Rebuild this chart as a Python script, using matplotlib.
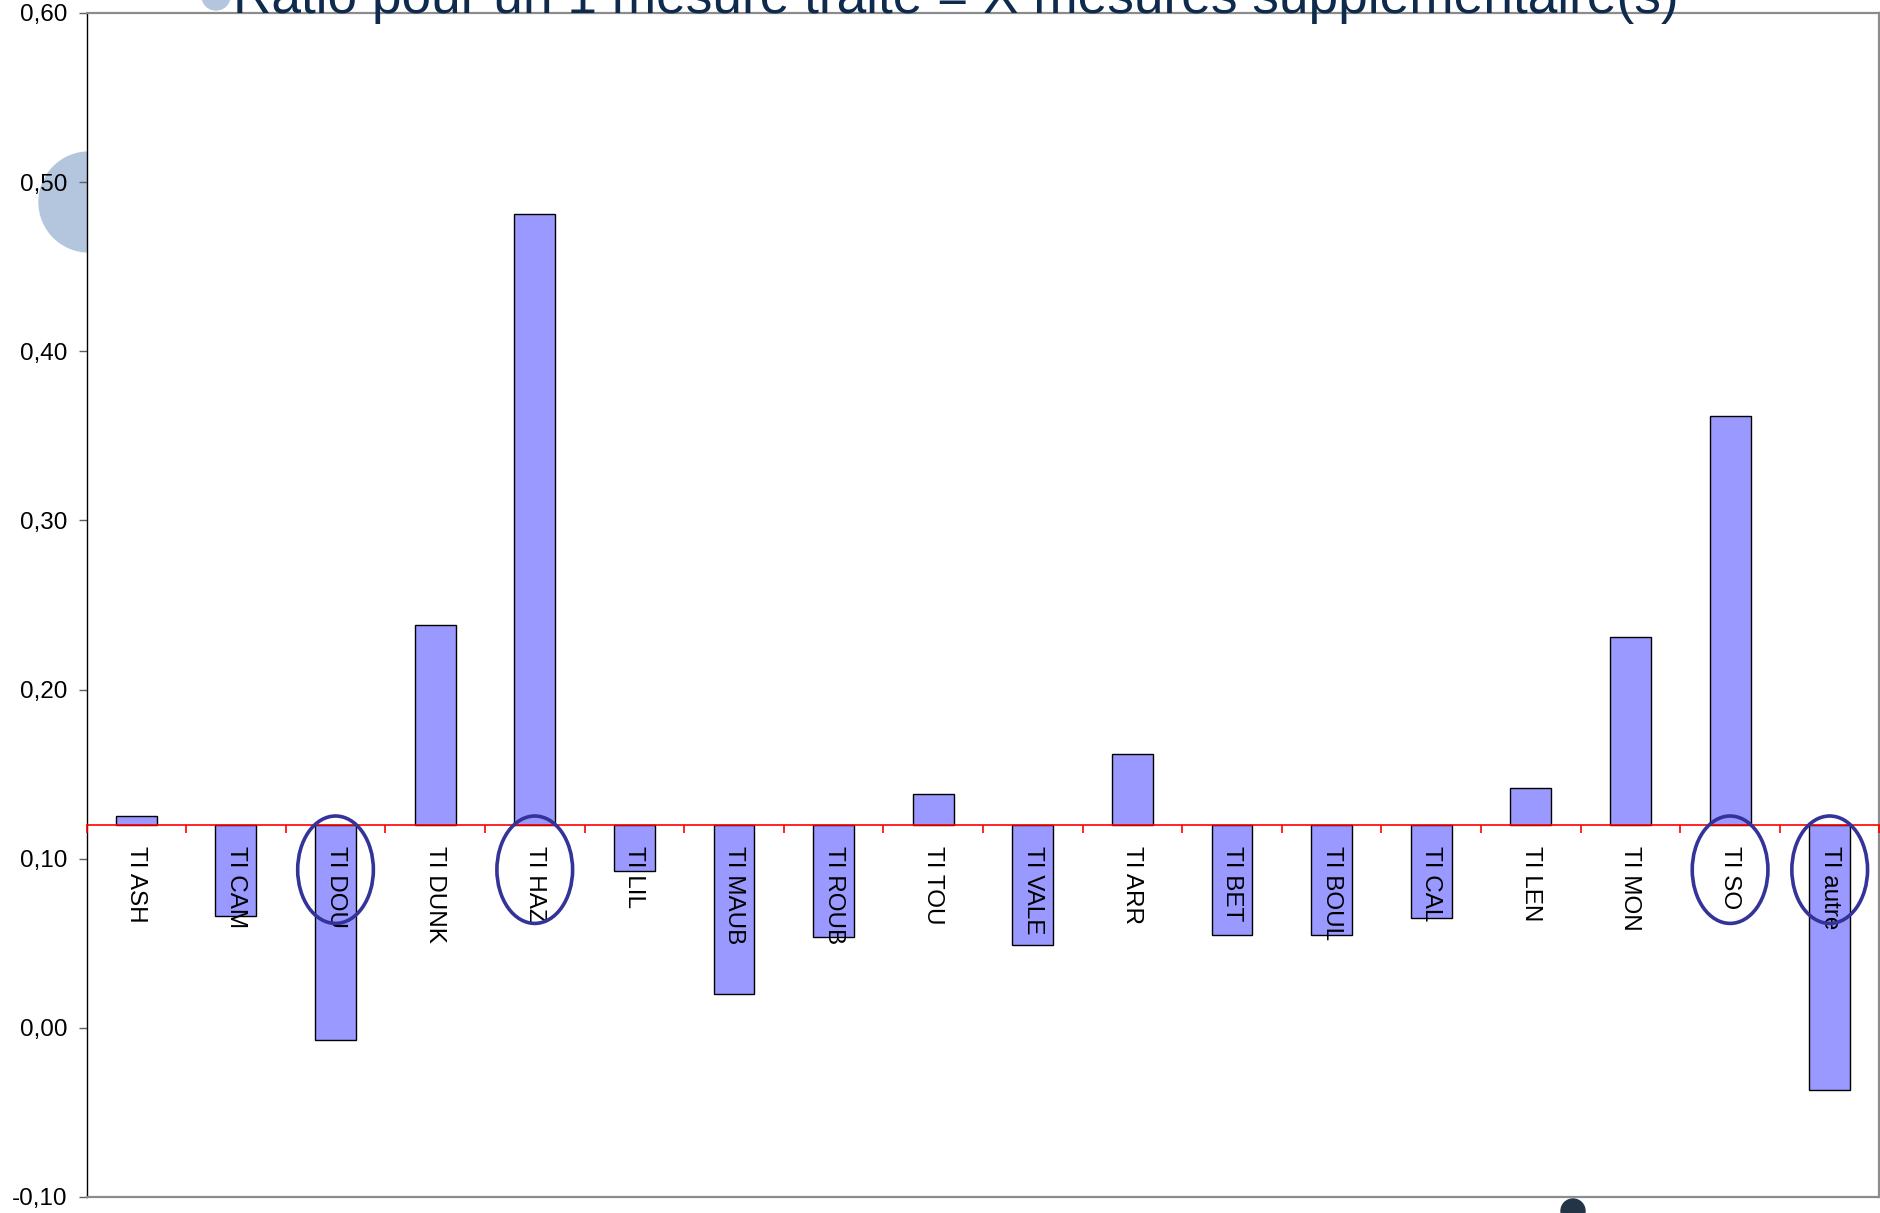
import numpy as np
import matplotlib
matplotlib.use('Agg')
import matplotlib.pyplot as plt
from matplotlib.patches import Circle, Ellipse
from matplotlib.ticker import FuncFormatter, FixedLocator

# Ratio per site
sites = ['TI ASH', 'TI CAM', 'TI DOU', 'TI DUNK', 'TI HAZ', 'TI LIL', 'TI MAUB',
         'TI ROUB', 'TI TOU', 'TI VALE', 'TI ARR', 'TI BET', 'TI BOUL', 'TI CAL',
         'TI LEN', 'TI MON', 'TI SO', 'TI autre']
ratios = [0.125, 0.066, -0.007, 0.238, 0.481, 0.093, 0.020,
          0.054, 0.138, 0.049, 0.162, 0.055, 0.055, 0.065,
          0.142, 0.231, 0.362, -0.037]
baseline = 0.12
highlighted = ['TI DOU', 'TI HAZ', 'TI SO', 'TI autre']
yticks = [-0.10, 0.00, 0.10, 0.20, 0.30, 0.40, 0.50, 0.60]
title = 'Ratio pour un 1 mesure traité = X mesures supplémentaire(s)'

plt.rcParams['font.family'] = ['Liberation Sans', 'DejaVu Sans']

W, H = 1881, 1213
fig = plt.figure(figsize=(W / 100, H / 100), dpi=100)
ax = fig.add_axes([86.5 / W, 16 / H, (1879.5 - 86.5) / W, (1198 - 14) / H])
ax.set_facecolor('white')

x = np.arange(len(sites))
vals = np.array(ratios)
ax.bar(x, vals - baseline, bottom=baseline, width=0.41, color='#9999FF',
       edgecolor='black', linewidth=1.0, zorder=2)

ax.set_xlim(-0.5, len(sites) - 0.5)
ax.set_ylim(-0.10, 0.60)
ax.set_yticks(yticks)
ax.yaxis.set_major_formatter(FuncFormatter(lambda v, p: f'{v:.2f}'.replace('.', ',').replace('-0,00', '0,00')))
ax.tick_params(axis='y', length=6, width=1, color='#606060', labelsize=17.5, pad=8)
ax.tick_params(axis='x', bottom=False, labelbottom=False)

for s in ['top', 'right', 'bottom']:
    ax.spines[s].set_color('#8C8C8C')
    ax.spines[s].set_linewidth(1.6)
ax.spines['left'].set_color('black')
ax.spines['left'].set_linewidth(1.0)

# category axis crossing at the baseline
sec = ax.secondary_xaxis(baseline, transform=ax.transData)
sec.set_zorder(3)
sec.spines['bottom'].set_color('red')
sec.spines['bottom'].set_linewidth(1.2)
sec.xaxis.set_major_locator(FixedLocator(np.arange(len(sites) + 1) - 0.5))
sec.xaxis.set_minor_locator(FixedLocator(x))
sec.xaxis.set_major_formatter(FuncFormatter(lambda v, p: ''))
sec.xaxis.set_minor_formatter(FuncFormatter(lambda v, p: sites[int(round(v))]))
sec.tick_params(axis='x', which='major', direction='out', length=6, width=1.2, color='red')
sec.tick_params(axis='x', which='minor', length=0, pad=15.5, labelsize=17.5,
                labelrotation=270)

# highlighted sites
for name in highlighted:
    i = sites.index(name)
    ax.add_patch(Ellipse((i, 0.0935), 0.76, 0.0635, fill=False,
                         edgecolor='#333399', linewidth=2.6, zorder=5))

# decorative elements
fig.patches.append(Circle((0.89, (H - 202) / 100), 0.5, color='#B4C6DE',
                          transform=fig.dpi_scale_trans, zorder=-1))
fig.patches.append(Circle((2.16, (H + 4) / 100), 0.14, color='#B4C6DE',
                          transform=fig.dpi_scale_trans, zorder=4))
fig.patches.append(Circle((15.73, 0.02), 0.12, color='#243447',
                          transform=fig.dpi_scale_trans, zorder=4))
fig.text(233 / W, 1 - 13 / H, title, fontsize=38.3, color='#0E2A4D',
         ha='left', va='baseline', zorder=5)

fig.savefig('out.png', dpi=100)
